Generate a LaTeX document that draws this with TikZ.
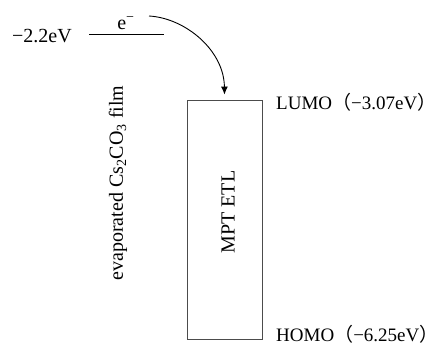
\documentclass[tikz,border=0pt]{standalone}
\usepackage{fontspec}
\setmainfont{Liberation Serif}
\newfontfamily\cjk{Noto Sans CJK SC}
\usetikzlibrary{arrows.meta}

\begin{document}
\begin{tikzpicture}[x=1pt, y=-1pt,
        % Define the styles for the texts, the level and the layer
        label text/.style={inner sep=0pt, font=\fontsize{20}{24}\selectfont},
        level text/.style={label text, anchor=base west, font=\fontsize{19}{23}\selectfont},
        level/.style={line width=0.9pt},
        layer/.style={draw=black!70, line width=0.9pt, minimum width=75pt,
                      minimum height=239pt, inner sep=0pt}]

        % 1. Fix the size of the picture
        \useasboundingbox (0,0) rectangle (433,343);

        % 2. The level of the evaporated film
        \coordinate (L1) at (89,34);
        \coordinate (L2) at (164,34);
        \draw[level] (L1) -- (L2);
        \node[label text, anchor=base west] (film level) at (12,42) {−2.2eV};
        \node[label text, anchor=base] (electron) at (126,29) {e\textsuperscript{−}};
        \node[label text, rotate=90] (film) at (118,183)
            {evaporated Cs\textsubscript{2}CO\textsubscript{3} film};

        % 3. The transport layer with its two levels
        \node[layer] (etl) at (224.5,219.5) {};
        \node[label text, rotate=90] (etl name) at (228,212) {MPT ETL};
        \node[level text] (lumo) at (276,109)
            {LUMO{\cjk （}−3.07eV{\cjk\makebox[0.5em][l]{）}}};
        \node[level text] (homo) at (276,341.5)
            {HOMO{\cjk （}−6.25eV{\cjk\makebox[0.5em][l]{）}}};

        % 4. The electron goes down to the layer
        \coordinate (e start) at (149,16);
        \draw[level, -{Latex[length=8pt, width=7pt]}]
            (e start) .. controls (185,18) and (224,50) .. ([yshift=5pt]etl.north);
    \end{tikzpicture}
\end{document}
